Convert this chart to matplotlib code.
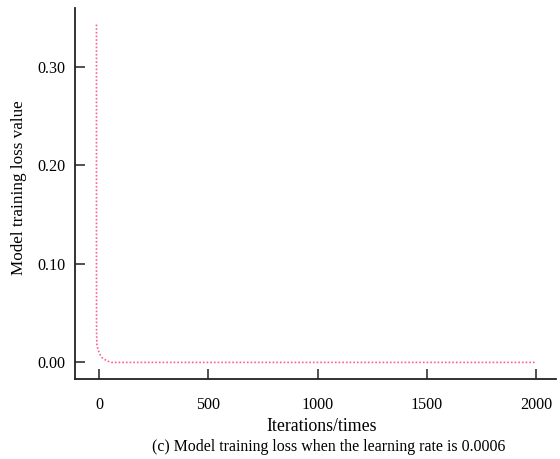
import matplotlib

matplotlib.use("Agg")
import matplotlib.pyplot as plt

# values
iterations = [-12, -12, -11.5, -10, -6, 2, 12, 25, 40, 57, 500, 1000, 1500, 2000]
loss = [0.343, 0.10, 0.030, 0.018, 0.014, 0.009, 0.005, 0.003, 0.0012, 0.0,
        0.0, 0.0, 0.0, 0.0]
xticks = [0, 500, 1000, 1500, 2000]
yticks = [0.0, 0.1, 0.2, 0.3]

plt.rcParams["font.family"] = ["Liberation Serif", "DejaVu Serif"]
plt.rcParams["font.size"] = 11.6

fig = plt.figure(figsize=(5.6, 4.59), dpi=100)
ax = fig.add_axes([0.134, 0.174, 0.859, 0.809])

ax.plot(iterations, loss, linestyle=(0, (1, 1.2)), color="#ff5c97", linewidth=1.2)

ax.set_xlim(-110, 2090)
ax.set_ylim(-0.017, 0.36)
ax.set_xticks(xticks)
ax.set_yticks(yticks)
ax.set_yticklabels([f"{v:.2f}" for v in yticks])

for side in ("top", "right"):
    ax.spines[side].set_visible(False)
for side in ("left", "bottom"):
    ax.spines[side].set_linewidth(1.3)
    ax.spines[side].set_color("#222222")
ax.tick_params(direction="in", length=7, width=1.1, colors="#222222",
               labelcolor="black")
ax.tick_params(axis="x", pad=13)
ax.tick_params(axis="y", pad=7)

ax.set_xlabel("Iterations/times", fontsize=12.8)
ax.xaxis.set_label_coords(0.513, -0.104)
ax.set_ylabel("Model training loss value", fontsize=12.3)
ax.yaxis.set_label_coords(-0.10, 0.515)
fig.text(0.587, 0.026, "(c) Model training loss when the learning rate is 0.0006",
         ha="center", va="center", fontsize=11.4)

fig.savefig("out.png", dpi=100)
